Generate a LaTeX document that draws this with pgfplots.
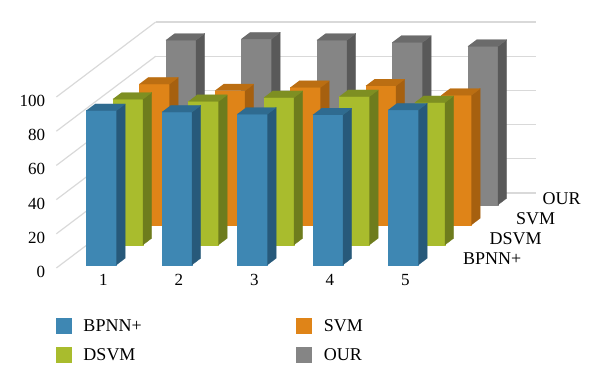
\documentclass[border=0pt]{standalone}
\usepackage{fontspec}
\setmainfont{Liberation Serif}
\usepackage{pgfplots}
\usepackage{pgfplotstable}
\pgfplotsset{compat=1.18}

\definecolor{blueF}{HTML}{3E87B3}\definecolor{blueS}{HTML}{27597A}\definecolor{blueT}{HTML}{2F6B90}
\definecolor{greenF}{HTML}{A9BC2D}\definecolor{greenS}{HTML}{6E7C1D}\definecolor{greenT}{HTML}{7E8F22}
\definecolor{orangeF}{HTML}{DF8418}\definecolor{orangeS}{HTML}{A6600F}\definecolor{orangeT}{HTML}{BB6E12}
\definecolor{grayF}{HTML}{858585}\definecolor{grayS}{HTML}{595959}\definecolor{grayT}{HTML}{6B6B6B}
\definecolor{gridgray}{HTML}{D9D9D9}

\pgfplotstableread{
col BPNN DSVM SVM OUR
1 90.2 85.2 82.3 96.3
2 89.3 83.8 78.4 97.0
3 88.1 86.1 80.3 96.3
4 87.7 86.7 81.3 95.0
5 90.6 83.2 75.8 92.7
}\datatable

% one cuboid: #1 category position, #2 row (depth), #3 value, #4 colour prefix
\newcommand\drawbar[4]{%
  \pgfmathsetmacro\xa{#1-0.2}\pgfmathsetmacro\xb{#1+0.2}%
  \pgfmathsetmacro\ya{#2-0.165}\pgfmathsetmacro\yb{#2+0.165}%
  \edef\tmp{%
    \noexpand\addplot3[fill=#4F, draw=#4F, line width=0.3pt, line join=round, forget plot]
      coordinates {(\xa,\ya,0) (\xb,\ya,0) (\xb,\ya,#3) (\xa,\ya,#3)};
    \noexpand\addplot3[fill=#4S, draw=#4S, line width=0.3pt, line join=round, forget plot]
      coordinates {(\xb,\ya,0) (\xb,\yb,0) (\xb,\yb,#3) (\xb,\ya,#3)};
    \noexpand\addplot3[fill=#4T, draw=#4T, line width=0.3pt, line join=round, forget plot]
      coordinates {(\xa,\ya,#3) (\xb,\ya,#3) (\xb,\yb,#3) (\xa,\yb,#3)};
  }\tmp}
% one row of bars: #1 table column, #2 row index, #3 colour prefix
\newcommand\drawrow[3]{%
  \pgfplotsinvokeforeach{0,...,4}{%
    \pgfplotstablegetelem{##1}{col}\of\datatable \let\cx\pgfplotsretval
    \pgfplotstablegetelem{##1}{#1}\of\datatable \let\hv\pgfplotsretval
    \drawbar{\cx}{#2}{\hv}{#3}}}

\begin{document}
\begin{tikzpicture}
\begin{axis}[
  x={(75.5pt,0pt)}, y={(26.5pt,20pt)}, z={(0pt,1.71pt)},
  xmin=0.46, xmax=5.5, ymin=-0.325, ymax=3.425, zmin=0, zmax=100,
  xtick={1,2,3,4,5}, ytick={0,1,2,3}, yticklabels={BPNN+,DSVM,SVM,OUR},
  ztick={0,20,40,60,80,100},
  zmajorgrids=true, xmajorgrids=false, ymajorgrids=false,
  grid style={draw=gridgray, line width=1.2pt},
  axis line style={draw=none},
  major tick length=0pt, tick style={draw=none},
  clip=false,
  ticklabel style={font=\fontsize{17}{20}\selectfont, inner sep=0pt},
  /pgf/number format/assume math mode=true,
  xticklabel style={anchor=north, xshift=6.2pt, yshift=-6.5pt},
  yticklabel style={anchor=west, xshift=17.5pt, yshift=2.5pt, font=\fontsize{18}{20}\selectfont},
  zticklabel style={anchor=east, xshift=-11pt, yshift=-4pt},
  legend columns=2,
  legend cell align=left,
  legend style={draw=none, fill=none, inner sep=0pt, outer sep=0pt,
    at={(axis cs:0.3385,0,-33.04)}, anchor=north west,
    font=\fontsize{18}{20}\selectfont,
    row sep=13pt, column sep=0pt,
    nodes={inner sep=0pt, text width=212.7pt, align=left, text height=13.2pt, text depth=2.8pt},
    /tikz/every odd column/.append style={column sep=12.3pt}},
]
\drawrow{OUR}{3}{gray}
\drawrow{SVM}{2}{orange}
\drawrow{DSVM}{1}{green}
\drawrow{BPNN}{0}{blue}

\addlegendimage{legend image code/.code={\fill[blueF] (0pt,-7.5pt) rectangle (15pt,7.5pt);}}
\addlegendentry{BPNN+}
\addlegendimage{legend image code/.code={\fill[orangeF] (0pt,-7.5pt) rectangle (15pt,7.5pt);}}
\addlegendentry{SVM}
\addlegendimage{legend image code/.code={\fill[greenF] (0pt,-7.5pt) rectangle (15pt,7.5pt);}}
\addlegendentry{DSVM}
\addlegendimage{legend image code/.code={\fill[grayF] (0pt,-7.5pt) rectangle (15pt,7.5pt);}}
\addlegendentry{OUR}

\coordinate (BL) at (axis cs:-0.40053,0,-65.789);
\coordinate (TR) at (axis cs:7.5465,0,152.924);
\end{axis}
\pgfresetboundingbox
\path[use as bounding box] (BL) rectangle (TR);
\end{tikzpicture}
\end{document}
